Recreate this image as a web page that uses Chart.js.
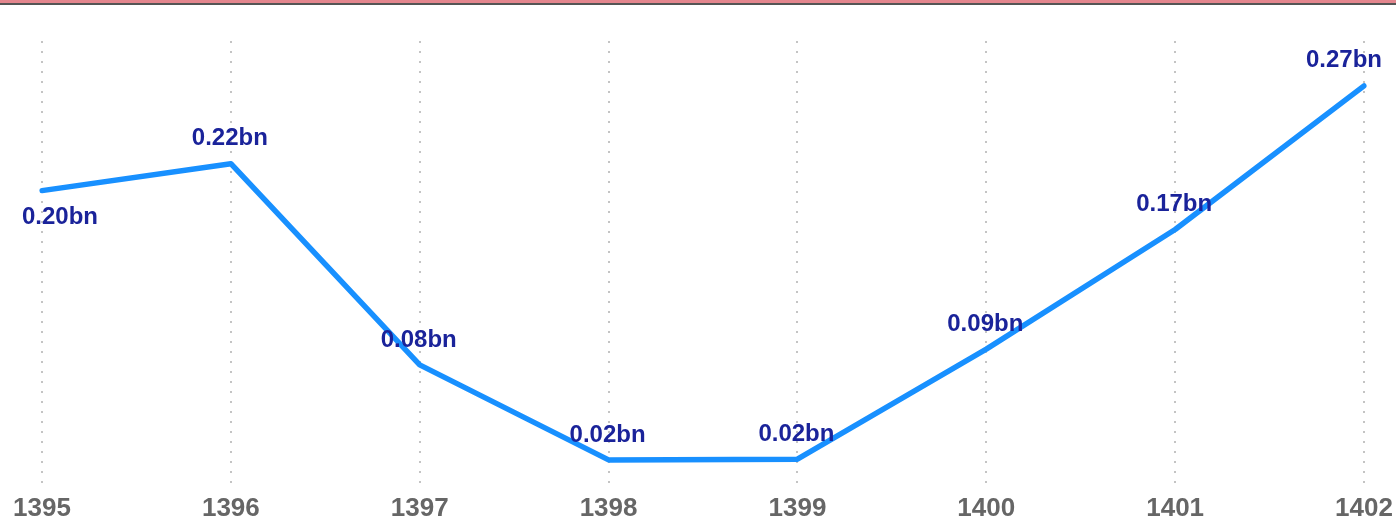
<!DOCTYPE html>
<html>
<head>
<meta charset="utf-8">
<script src="https://cdn.jsdelivr.net/npm/chart.js@4"></script>
<style>
  html, body { margin: 0; padding: 0; background: #fff; }
  #wrap { position: relative; width: 1396px; height: 522px; }
  #bar1 { position: absolute; left: 0; top: 0; width: 1396px; height: 3px; background: #e4868e; }
  #bar2 { position: absolute; left: 0; top: 3px; width: 1396px; height: 2px; background: #555; }
  canvas { display: block; }
</style>
</head>
<body>
<div id="wrap">
  <canvas id="c" width="1396" height="522"></canvas>
  <div id="bar1"></div>
  <div id="bar2"></div>
</div>
<script>
const years = ['1395', '1396', '1397', '1398', '1399', '1400', '1401', '1402'];
const values = [0.20, 0.218, 0.0835, 0.02, 0.0205, 0.094, 0.174, 0.27];

const labelPlugin = {
  id: 'valueLabels',
  afterDatasetsDraw(chart) {
    const ctx = chart.ctx;
    const meta = chart.getDatasetMeta(0);
    ctx.save();
    ctx.font = 'bold 24px "Liberation Sans", Arial, sans-serif';
    ctx.fillStyle = '#1a239a';
    ctx.textBaseline = 'middle';
    const n = meta.data.length;
    meta.data.forEach((pt, i) => {
      const txt = values[i].toFixed(2) + 'bn';
      let x = pt.x - 1, y = pt.y - 25;
      ctx.textAlign = 'center';
      if (i === 0) { ctx.textAlign = 'left'; x = pt.x - 20; y = pt.y + 27; }
      if (i === n - 1) { ctx.textAlign = 'right'; x = pt.x + 18; y = pt.y - 26; }
      ctx.fillText(txt, x, y);
    });
    ctx.restore();
  }
};

new Chart(document.getElementById('c'), {
  type: 'line',
  data: {
    labels: years,
    datasets: [{
      data: values,
      borderColor: '#1890ff',
      borderWidth: 5.5,
      pointRadius: 0,
      tension: 0,
      fill: false,
      borderCapStyle: 'round',
      borderJoinStyle: 'round'
    }]
  },
  options: {
    responsive: false,
    animation: false,
    events: [],
    layout: { padding: { left: 42, right: 32, top: 41, bottom: -5 } },
    plugins: { legend: { display: false }, tooltip: { enabled: false } },
    scales: {
      x: {
        offset: false,
        border: { display: false, dash: [2, 8] },
        grid: { color: '#c4c4c4', lineWidth: 2, drawTicks: false },
        ticks: {
          color: '#666666',
          padding: 3,
          maxRotation: 0,
          autoSkip: false,
          font: { family: '"Liberation Sans", Arial, sans-serif', size: 26, weight: 'bold' }
        }
      },
      y: {
        display: false,
        min: 0,
        max: 0.3
      }
    }
  },
  plugins: [labelPlugin]
});
</script>
</body>
</html>
